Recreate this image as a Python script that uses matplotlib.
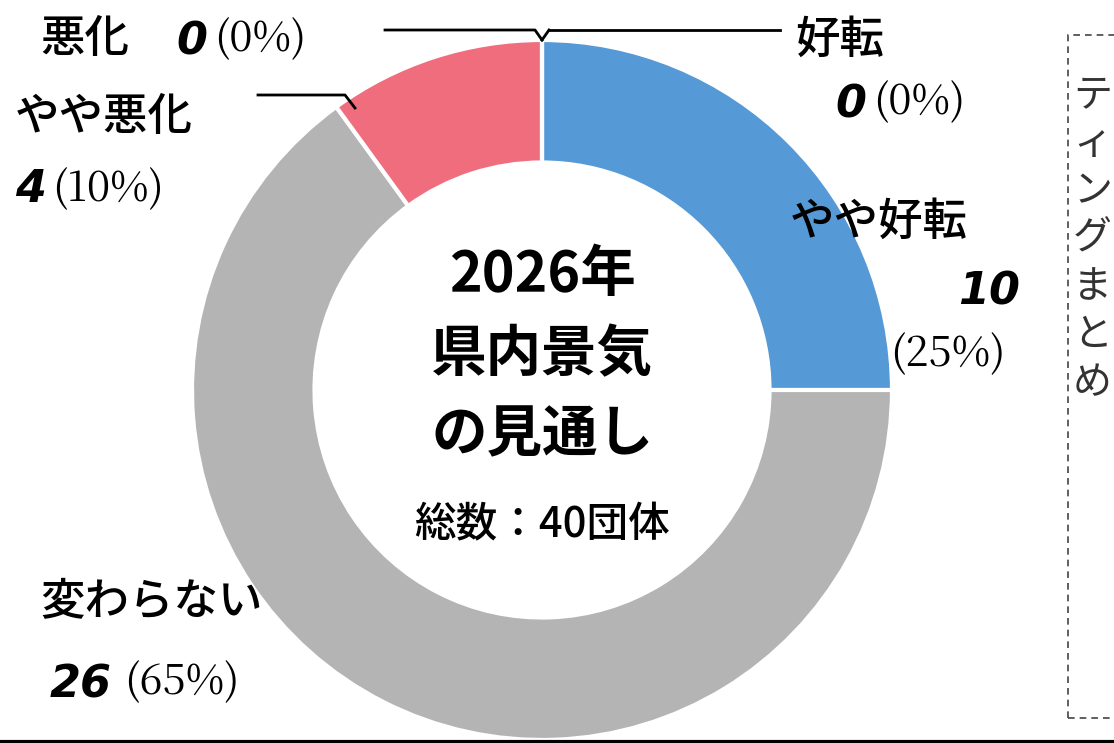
import matplotlib
matplotlib.use("Agg")
import matplotlib.pyplot as plt
from matplotlib.patches import Rectangle

plt.rcParams['font.family'] = ['Noto Sans CJK JP', 'DejaVu Sans']

labels = ["好転", "やや好転", "変わらない", "やや悪化", "悪化"]
counts = [0, 10, 26, 4, 0]
pcts = [0, 25, 65, 10, 0]
colors = ["#5599d6", "#5599d6", "#b4b4b4", "#f06d7e", "#f06d7e"]

W, H = 1114, 743
fig = plt.figure(figsize=(W/100, H/100), dpi=100)
ax = fig.add_axes([0, 0, 1, 1])

cx, cy, R = 542, H - 390, 350
ax.pie(counts, colors=colors, startangle=90, counterclock=False, center=(cx, cy), radius=R,
       wedgeprops=dict(width=R*0.35, edgecolor='white', linewidth=3), frame=True)
ax.set_xlim(0, W); ax.set_ylim(0, H); ax.set_aspect('equal'); ax.axis('off')

def y(v): return H - v

ckw = dict(fontsize=40, ha='center', va='center', fontweight='bold')
ax.text(cx, y(275), "2026年", **ckw)
ax.text(cx, y(355), "県内景気", **ckw)
ax.text(cx, y(435), "の見通し", **ckw)
ax.text(cx, y(525), "総数：40団体", fontsize=30, ha='center', va='center', fontweight='medium')

numkw = dict(family='DejaVu Sans', fontweight='bold', style='italic', fontsize=32)
ptkw = dict(fontsize=30, family=['Noto Serif CJK JP', 'DejaVu Serif'])
lkw = dict(fontsize=32, fontweight='medium')

def pct(x, yy, p):
    ax.text(x, y(yy), f"({p}%)", va='center', **ptkw)

ax.text(40, y(40), "悪化", va='center', **lkw)
ax.text(176, y(42), str(counts[4]), va='center', **numkw)
pct(214, 40, pcts[4])
ax.plot([385, 535, 542], [y(30), y(30), y(40)], color='black', lw=2)
ax.plot([549, 780], [y(30), y(30)], color='black', lw=2)
ax.plot([542, 549], [y(40), y(30)], color='black', lw=2)
ax.text(795, y(40), "好転", va='center', **lkw)
ax.text(835, y(105), str(counts[0]), va='center', **numkw)
pct(873, 103, pcts[0])
ax.text(15, y(117), "やや悪化", va='center', **lkw)
ax.plot([258, 345, 355], [y(95), y(95), y(108)], color='black', lw=2)
ax.text(15, y(190), str(counts[3]), va='center', **numkw)
pct(52, 190, pcts[3])
ax.text(790, y(222), "やや好転", va='center', **lkw)
ax.text(958, y(292), str(counts[1]), va='center', **numkw)
pct(890, 355, pcts[1])
ax.text(40, y(603), "変わらない", va='center', **lkw)
ax.text(50, y(685), str(counts[2]), va='center', **numkw)
pct(124, 683, pcts[2])

ax.add_patch(Rectangle((1068, y(718)), 80, 683, fill=False, ls=(0, (4, 3)), lw=1.2, ec='#444444'))
for i, ch in enumerate("ティングまとめ"):
    ax.text(1112, y(95 + i*48), ch, fontsize=28, ha='right', va='center', color='#333333')

ax.plot([0, W], [1.5, 1.5], color='black', lw=3)
fig.savefig("out.png", dpi=100)
